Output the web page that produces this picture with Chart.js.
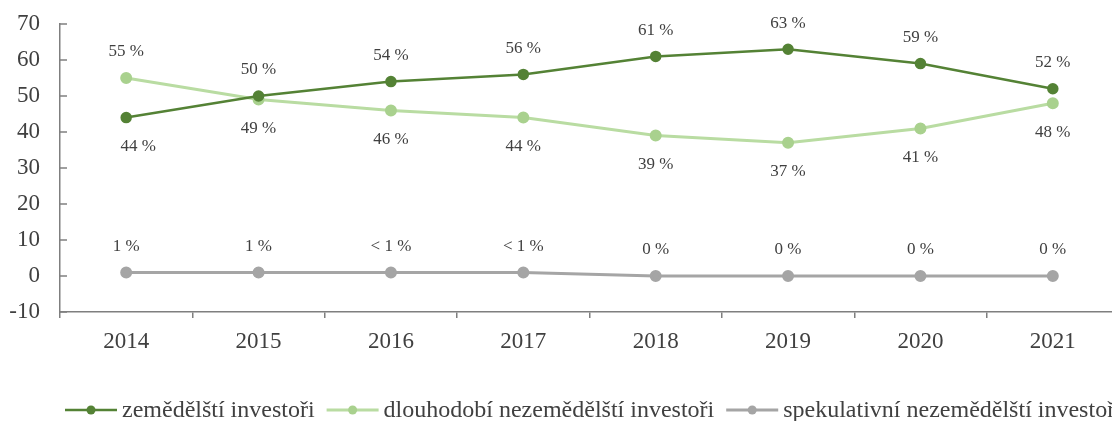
<!DOCTYPE html>
<html>
<head>
<meta charset="utf-8">
<script src="https://cdn.jsdelivr.net/npm/chart.js@4"></script>
<style>
    body { margin: 0; overflow: hidden; background: #fff; }
    #obal { width: 1180px; height: 421px; }
</style>
</head>
<body>
<div id="obal"><canvas id="graf"></canvas></div>
<script>
var roky = ['2014', '2015', '2016', '2017', '2018', '2019', '2020', '2021'];
var zemedelsti = [44, 50, 54, 56, 61, 63, 59, 52];
var dlouhodobi = [55, 49, 46, 44, 39, 37, 41, 48];
var spekulativni = [1, 1, 1, 1, 0, 0, 0, 0];
var zemedelstiPopisky = ['44 %', '50 %', '54 %', '56 %', '61 %', '63 %', '59 %', '52 %'];
var dlouhodobiPopisky = ['55 %', '49 %', '46 %', '44 %', '39 %', '37 %', '41 %', '48 %'];
var spekulativniPopisky = ['1 %', '1 %', '< 1 %', '< 1 %', '0 %', '0 %', '0 %', '0 %'];
var osaY = [-10, 0, 10, 20, 30, 40, 50, 60, 70];

var barvaText = '#404040';
var barvaOsa = '#7f7f7f';
var pismo = '"Liberation Serif", "Times New Roman", serif';

// popisky hodnot nad / pod body
var popiskyPlugin = {
    id: 'popisky',
    afterDatasetsDraw: function (chart) {
        var ctx = chart.ctx;
        ctx.save();
        ctx.font = '17px ' + pismo;
        ctx.fillStyle = barvaText;
        ctx.textAlign = 'center';
        ctx.textBaseline = 'middle';
        chart.data.datasets.forEach(function (ds, di) {
            var meta = chart.getDatasetMeta(di);
            meta.data.forEach(function (bod, i) {
                var dole = ds.popiskyDole.indexOf(i) !== -1;
                var y = dole ? bod.y + 29 : bod.y - 26;
                var posun = (ds.popiskyPosun && ds.popiskyPosun[i]) || 0;
                ctx.fillText(ds.popisky[i], bod.x + posun, y);
            });
        });
        ctx.restore();
    }
};

// carky osy Y dovnitr grafu
var carkyPlugin = {
    id: 'carky',
    afterDraw: function (chart) {
        var ctx = chart.ctx;
        var sy = chart.scales.y;
        var left = chart.chartArea.left;
        ctx.save();
        ctx.strokeStyle = barvaOsa;
        ctx.lineWidth = 1.5;
        sy.ticks.forEach(function (t) {
            var y = sy.getPixelForValue(t.value);
            ctx.beginPath();
            ctx.moveTo(left, y);
            ctx.lineTo(left + 7, y);
            ctx.stroke();
        });
        ctx.restore();
    }
};

// legenda dole: cara s teckou + text
var legendaPlugin = {
    id: 'legenda',
    afterDraw: function (chart) {
        var ctx = chart.ctx;
        var x = 65;
        var y = 410;
        ctx.save();
        ctx.font = '24px ' + pismo;
        ctx.textBaseline = 'middle';
        ctx.textAlign = 'left';
        chart.data.datasets.forEach(function (ds) {
            ctx.strokeStyle = ds.borderColor;
            ctx.lineWidth = ds.borderWidth;
            ctx.beginPath();
            ctx.moveTo(x, y);
            ctx.lineTo(x + 52, y);
            ctx.stroke();
            ctx.fillStyle = ds.backgroundColor;
            ctx.beginPath();
            ctx.arc(x + 26, y, 4.5, 0, Math.PI * 2);
            ctx.fill();
            ctx.fillStyle = barvaText;
            ctx.fillText(ds.label, x + 57, y + 1);
            x += 57 + ctx.measureText(ds.label).width + 12;
        });
        ctx.restore();
    }
};

var ctx = document.getElementById('graf').getContext('2d');
var myChart = new Chart(ctx, {
    type: 'line',
    data: {
        labels: roky,
        datasets: [
            {
                label: 'zemědělští investoři',
                data: zemedelsti,
                popisky: zemedelstiPopisky,
                popiskyDole: [0],
                popiskyPosun: [12],
                borderColor: '#548235',
                backgroundColor: '#548235',
                pointBorderColor: '#548235',
                borderWidth: 2.5,
                pointRadius: 4.5
            },
            {
                label: 'dlouhodobí nezemědělští investoři',
                data: dlouhodobi,
                popisky: dlouhodobiPopisky,
                popiskyDole: [1, 2, 3, 4, 5, 6, 7],
                borderColor: '#b9dca2',
                backgroundColor: '#a9d18e',
                pointBorderColor: '#a9d18e',
                borderWidth: 3,
                pointRadius: 4.5
            },
            {
                label: 'spekulativní nezemědělští investoři',
                data: spekulativni,
                popisky: spekulativniPopisky,
                popiskyDole: [],
                borderColor: '#a5a5a5',
                backgroundColor: '#a5a5a5',
                pointBorderColor: '#a5a5a5',
                borderWidth: 3,
                pointRadius: 4.5
            }
        ]
    },
    options: {
        responsive: true,
        maintainAspectRatio: false,
        animation: false,
        layout: {
            padding: { top: 24, right: 61, bottom: 49, left: 0 }
        },
        plugins: {
            tooltip: { enabled: false },
            legend: { display: false }
        },
        scales: {
            x: {
                offset: true,
                grid: {
                    display: true,
                    drawOnChartArea: false,
                    drawTicks: true,
                    tickLength: 6,
                    color: barvaOsa,
                    lineWidth: 1.5,
                    offset: true
                },
                border: { color: barvaOsa, width: 1.5 },
                ticks: {
                    color: barvaText,
                    padding: 10,
                    font: { family: pismo, size: 23 }
                },
                afterFit: function (scale) {
                    scale.height = 60;
                }
            },
            y: {
                min: -10,
                max: 70,
                afterBuildTicks: function (scale) {
                    scale.ticks = osaY.map(function (v) { return { value: v }; });
                },
                grid: {
                    display: true,
                    drawOnChartArea: false,
                    drawTicks: false
                },
                border: { color: barvaOsa, width: 1.5 },
                ticks: {
                    color: barvaText,
                    padding: 20,
                    font: { family: pismo, size: 23 }
                },
                afterFit: function (scale) {
                    scale.width = 60;
                    scale.paddingTop = 0;
                    scale.paddingBottom = 0;
                }
            }
        }
    },
    plugins: [popiskyPlugin, carkyPlugin, legendaPlugin]
});
</script>
</body>
</html>
